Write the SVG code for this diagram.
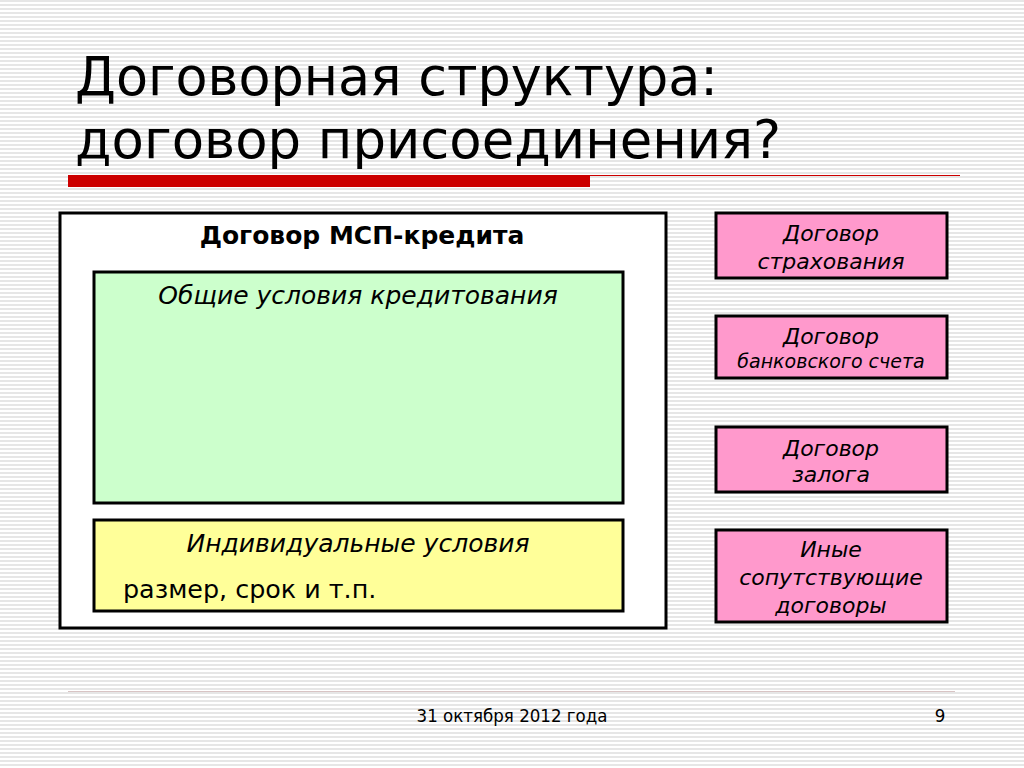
<svg xmlns="http://www.w3.org/2000/svg" width="1024" height="768" viewBox="0 0 1024 768">
<defs>
<pattern id="stripes" width="4" height="4" patternUnits="userSpaceOnUse">
<rect width="4" height="4" fill="#ffffff"/>
<rect y="0" width="4" height="2" fill="#e6e6e6"/>
</pattern>
<style>
.t{font-family:"DejaVu Sans",Verdana,sans-serif;fill:#000}
.ti{font-family:"DejaVu Sans Condensed","DejaVu Sans",sans-serif;font-size:54px;fill:#000}
.box{stroke:#000;stroke-width:3}
.pink{fill:#ff99cc;stroke:#000;stroke-width:3}
.pt{font-family:"DejaVu Sans",Verdana,sans-serif;font-style:italic;font-size:22px;text-anchor:middle;fill:#000}
.pts{font-size:19px}
.ft{font-family:"DejaVu Sans Condensed","DejaVu Sans",sans-serif;font-size:18.5px;text-anchor:middle;fill:#000}
</style>
</defs>
<rect width="1024" height="768" fill="url(#stripes)"/>
<g id="title">
<text class="ti" x="75" y="95" textLength="643" lengthAdjust="spacingAndGlyphs">Договорная структура:</text>
<text class="ti" x="75" y="158" textLength="706" lengthAdjust="spacingAndGlyphs">договор присоединения?</text>
</g>
<g id="rule">
<rect x="68" y="175" width="522" height="12" fill="#cc0000"/>
<line x1="590" y1="175.5" x2="960" y2="175.5" stroke="#cc0000" stroke-width="1"/>
</g>
<g id="outer">
<rect class="box" x="60" y="213" width="606" height="415" fill="#ffffff"/>
<text class="t" x="362" y="244" font-size="25" font-weight="bold" text-anchor="middle">Договор МСП-кредита</text>
</g>
<g id="general">
<rect class="box" x="94" y="272" width="529" height="231" fill="#ccffcc"/>
<text class="t" x="358" y="304" font-size="25" font-style="italic" text-anchor="middle">Общие условия кредитования</text>
</g>
<g id="individual">
<rect class="box" x="94" y="520" width="529" height="91" fill="#ffff99"/>
<text class="t" x="358" y="552" font-size="25" font-style="italic" text-anchor="middle">Индивидуальные условия</text>
<text class="t" x="123" y="598" font-size="25.4">размер, срок и т.п.</text>
</g>
<g id="insurance">
<rect class="pink" x="716" y="213" width="231" height="65"/>
<text class="pt" x="831" y="241">Договор</text>
<text class="pt" x="831" y="269">страхования</text>
</g>
<g id="bank">
<rect class="pink" x="716" y="316" width="231" height="62"/>
<text class="pt" x="831" y="344">Договор</text>
<text class="pt pts" x="831" y="368">банковского счета</text>
</g>
<g id="pledge">
<rect class="pink" x="716" y="427" width="231" height="65"/>
<text class="pt" x="831" y="456">Договор</text>
<text class="pt" x="831" y="482">залога</text>
</g>
<g id="other">
<rect class="pink" x="716" y="530" width="231" height="92"/>
<text class="pt" x="831" y="557">Иные</text>
<text class="pt" x="831" y="585">сопутствующие</text>
<text class="pt" x="831" y="613">договоры</text>
</g>
<g id="connectors"></g>
<g id="footer">
<line x1="68" y1="691.5" x2="955" y2="691.5" stroke="#d8c4c4" stroke-width="1"/>
<text class="ft" x="512" y="722">31 октября 2012 года</text>
<text class="ft" x="940" y="722">9</text>
</g>
</svg>
